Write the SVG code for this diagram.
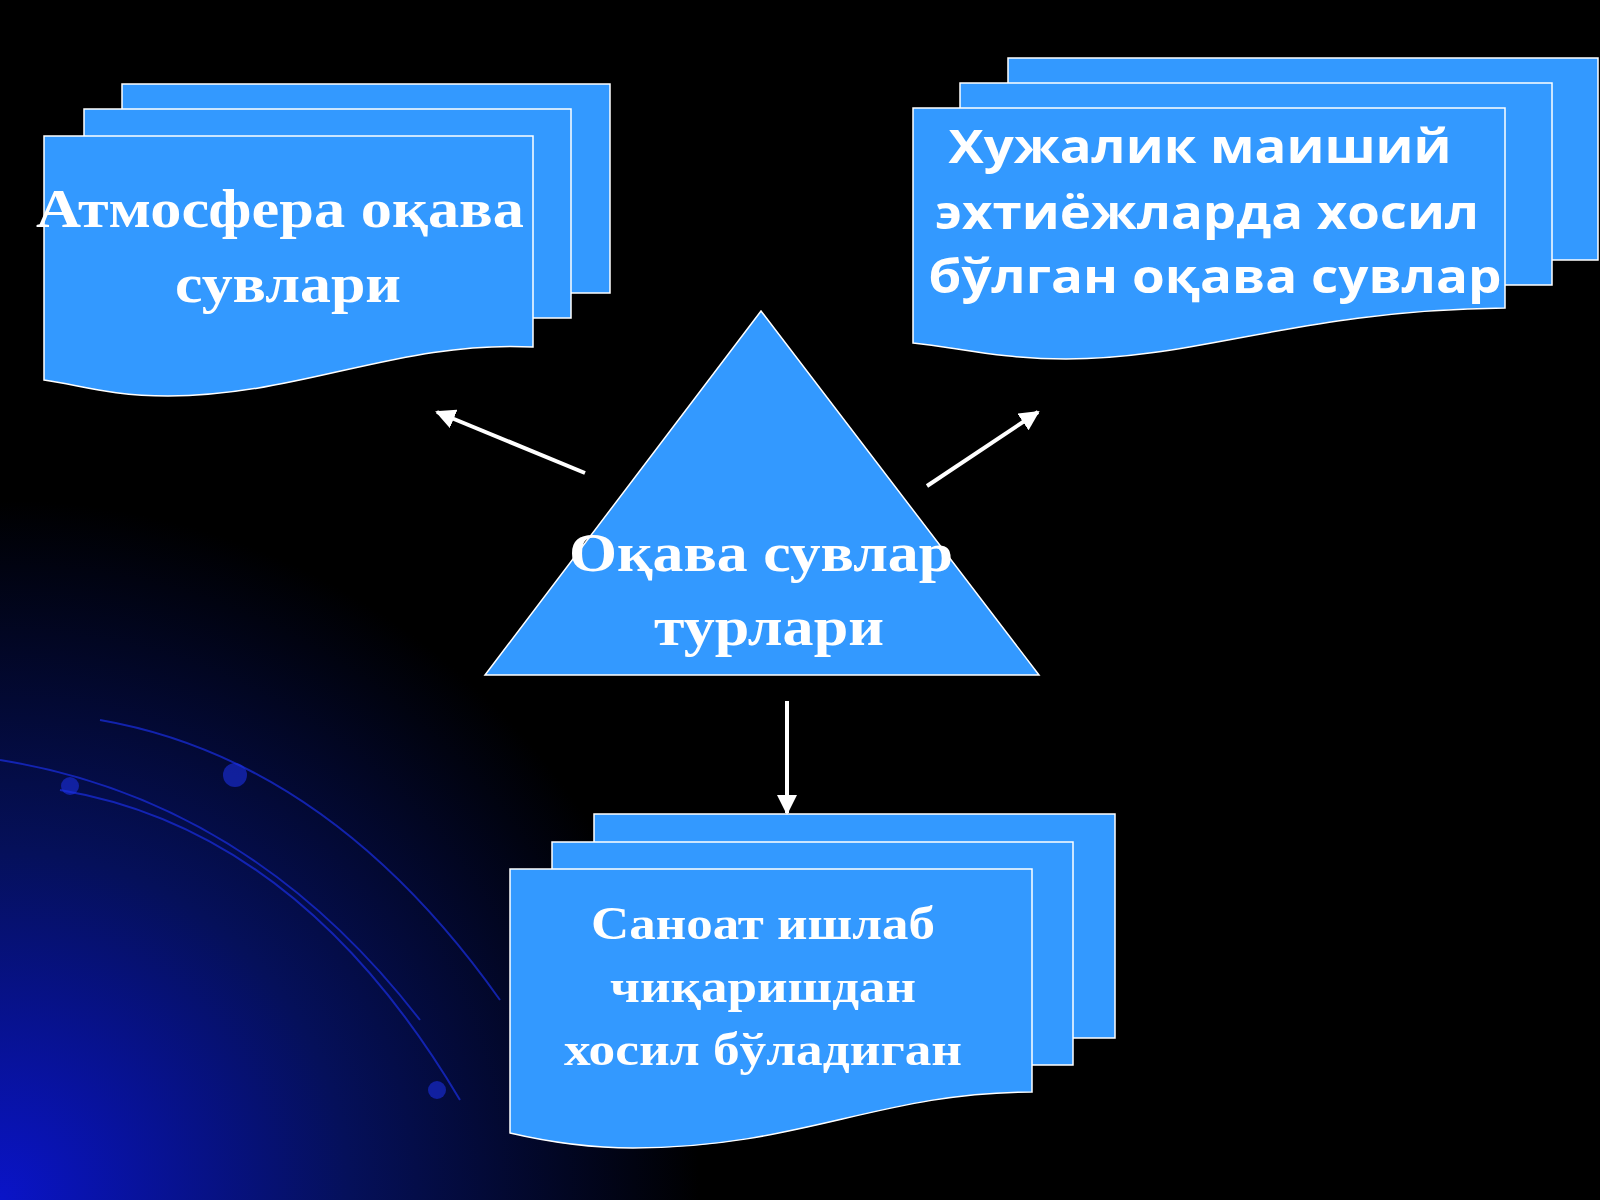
<svg xmlns="http://www.w3.org/2000/svg" width="1600" height="1200" viewBox="0 0 1600 1200">
<defs>
<radialGradient id="bg" cx="0" cy="1200" r="700" gradientUnits="userSpaceOnUse">
<stop offset="0" stop-color="#0a14c8"/><stop offset="0.5" stop-color="#05105a"/><stop offset="1" stop-color="#000"/>
</radialGradient>
<marker id="ah" viewBox="0 0 10 10" refX="9" refY="5" markerWidth="5" markerHeight="5" orient="auto"><path d="M0,0L10,5L0,10z" fill="#fff"/></marker>
<style>
.doc{fill:#3399ff;stroke:#fff;stroke-width:1.5}
.ser{font-family:"Liberation Serif",serif;font-weight:bold;fill:#fff;text-anchor:middle}
.san{font-family:"Open Sans","Noto Sans",sans-serif;font-weight:bold;fill:#fff;text-anchor:middle}
.con{stroke:#fff;stroke-width:4;fill:none;marker-end:url(#ah)}
.arc{fill:none;stroke:#1a2ee0;stroke-width:2;opacity:0.7}
</style>
</defs>
<rect width="1600" height="1200" fill="#000"/>
<rect width="1600" height="1200" fill="url(#bg)"/>
<path class="arc" d="M100,720 Q330,760 500,1000"/>
<path class="arc" d="M60,790 Q300,830 460,1100"/>
<path class="arc" d="M0,760 Q250,800 420,1020"/>
<circle cx="235" cy="775" r="12" fill="#1a2ee0" opacity="0.6"/>
<circle cx="70" cy="786" r="9" fill="#1a2ee0" opacity="0.6"/>
<circle cx="437" cy="1090" r="9" fill="#1a2ee0" opacity="0.6"/>
<g id="atmos">
<rect class="doc" x="122" y="84" width="488" height="209"/>
<rect class="doc" x="84" y="109" width="487" height="209"/>
<path class="doc" d="M44,136H533V347C400,340 300,396 168,396C110,396 80,385 44,380Z"/>
<text class="ser" font-size="54" x="280" y="227" textLength="488" lengthAdjust="spacingAndGlyphs">Атмосфера оқава</text>
<text class="ser" font-size="54" x="288" y="302" textLength="226" lengthAdjust="spacingAndGlyphs">сувлари</text>
</g>
<g id="xuzhalik">
<rect class="doc" x="1008" y="58" width="590" height="202"/>
<rect class="doc" x="960" y="83" width="592" height="202"/>
<path class="doc" d="M913,108H1505V308C1300,310 1200,359 1066,359C1000,359 960,348 913,343Z"/>
<text class="san" font-size="46" x="1200" y="163" textLength="503" lengthAdjust="spacingAndGlyphs">Хужалик маиший</text>
<text class="san" font-size="46" x="1207" y="229" textLength="544" lengthAdjust="spacingAndGlyphs">эхтиёжларда хосил</text>
<text class="san" font-size="46" x="1215" y="293" textLength="573" lengthAdjust="spacingAndGlyphs">бўлган оқава сувлар</text>
</g>
<g id="center">
<path class="doc" d="M761,311L1039,675H485Z"/>
<text class="ser" font-size="55" x="761" y="571" textLength="384" lengthAdjust="spacingAndGlyphs">Оқава сувлар</text>
<text class="ser" font-size="55" x="769" y="645" textLength="230" lengthAdjust="spacingAndGlyphs">турлари</text>
</g>
<g id="sanoat">
<rect class="doc" x="594" y="814" width="521" height="224"/>
<rect class="doc" x="552" y="842" width="521" height="223"/>
<path class="doc" d="M510,869H1032V1092C880,1092 800,1148 633,1148C580,1148 540,1140 510,1133Z"/>
<text class="ser" font-size="46" x="763" y="939" textLength="344" lengthAdjust="spacingAndGlyphs">Саноат ишлаб</text>
<text class="ser" font-size="46" x="763" y="1002" textLength="306" lengthAdjust="spacingAndGlyphs">чиқаришдан</text>
<text class="ser" font-size="46" x="763" y="1065" textLength="398" lengthAdjust="spacingAndGlyphs">хосил бўладиган</text>
</g>
<g id="connectors">
<line class="con" x1="585" y1="473" x2="437" y2="412"/>
<line class="con" x1="927" y1="486" x2="1038" y2="412"/>
<line class="con" x1="787" y1="701" x2="787" y2="813"/>
</g>
</svg>
